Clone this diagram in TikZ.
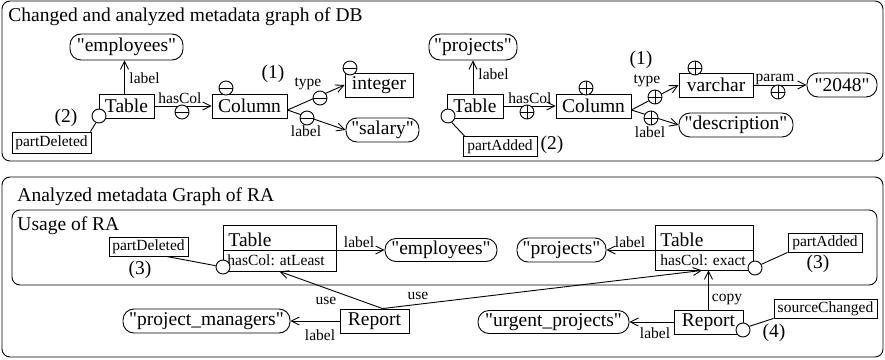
\documentclass[tikz,border=0pt]{standalone}
\usepackage{fontspec}
\setmainfont{Liberation Serif}[Ligatures=TeXOff]
\usetikzlibrary{arrows.meta,calc}
\newcommand\qq[1]{"#1"}
\begin{document}
\begin{tikzpicture}[x=1pt,y=-1pt,line width=0.9pt,
 bigf/.style={font=\fontsize{19.5}{22}\selectfont},
 smallf/.style={font=\fontsize{15.5}{18}\selectfont},
 txt/.style={inner sep=0pt},
 ebox/.style={draw,rectangle,inner sep=0pt,minimum height=24pt,bigf},
 pill/.style={draw,rectangle,rounded corners=11pt,inner sep=0pt,minimum height=24pt,bigf},
 sbox/.style={draw,rectangle,inner sep=0pt,minimum height=20pt,smallf},
 lbl/.style={inner sep=0pt,smallf},
 num/.style={inner sep=0pt,bigf},
 conn/.style={-{Straight Barb[length=8pt,width=8pt,line width=0.9pt]}},
 mk/.style={circle,draw,fill=white,minimum size=14pt,inner sep=0pt},
 minusmk/.style={mk,path picture={\draw (path picture bounding box.west) -- (path picture bounding box.east);}},
 plusmk/.style={mk,path picture={\draw (path picture bounding box.west) -- (path picture bounding box.east); \draw (path picture bounding box.north) -- (path picture bounding box.south);}},
 frame/.style={draw,rounded corners=8pt,line width=0.9pt}]

\useasboundingbox (0,0) rectangle (885,359);

% ---------- top frame ----------
\draw[frame] (2,1) rectangle (883,161);
\node[txt,bigf,anchor=base west] (t1) at (8,21) {Changed and analyzed metadata graph of DB};

% left graph
\node[ebox,minimum width=55pt] (TL) at (126.5,106) {Table};
\node[pill,minimum width=113pt,minimum height=26pt] (E1) at (126.5,47) {\qq{employees}};
\draw[conn] ($(TL.north)+(-2,0)$) -- ($(E1.south)+(-2,0)$);
\node[lbl,anchor=west] (l1) at (129,78) {label};
\node[sbox,minimum width=79pt,minimum height=21pt] (PD1) at (51.5,142.5) {partDeleted};
\node[mk] (c1) at (99,116) {};
\draw (c1.245) -- ($(PD1.north east)+(-1,0)$);
\node[num] (n2a) at (66,118) {(2)};
\node[ebox,minimum width=75pt] (C1) at (249.5,106) {Column};
\draw[conn] (TL.east) -- (C1.west);
\node[lbl,anchor=base west] (hc1) at (158,103) {hasCol};
\node[minusmk] (m1) at (182,112) {};
\node[minusmk] (m2) at (226,88) {};
\node[num] (n1a) at (273,74) {(1)};
\node[ebox,minimum width=68pt] (I1) at (379,85) {integer};
\node[minusmk] (m3) at (350,68) {};
\node[pill,minimum width=73pt] (S1) at (382.5,130) {\qq{salary}};
\coordinate (C1o) at ($(C1.east)+(0,4)$);
\draw[conn] (C1o) -- (I1.west);
\draw[conn] (C1o) -- (S1.west);
\node[lbl] (ty1) at (308,84) {type};
\node[minusmk] (m4) at (320,98) {};
\node[minusmk] (m5) at (307,118) {};
\node[lbl] (l2) at (306,131) {label};

% right graph
\node[ebox,minimum width=56pt] (TR) at (475,106) {Table};
\node[pill,minimum width=88pt,minimum height=26pt] (P1) at (473,47) {\qq{projects}};
\draw[conn] ($(TR.north)+(-2,0)$) -- (P1.south);
\node[lbl,anchor=west] (l3) at (478,74) {label};
\node[sbox,minimum width=74pt] (PA1) at (500,146.5) {partAdded};
\node[mk] (c2) at (448,116) {};
\draw (c2.300) -- ($(PA1.north west)+(2,0)$);
\node[num] (n2b) at (552,145) {(2)};
\node[ebox,minimum width=75pt] (C2) at (593.5,106) {Column};
\draw[conn] (TR.east) -- (C2.west);
\node[lbl,anchor=base west] (hc2) at (508,103) {hasCol};
\node[plusmk] (p1) at (527,112) {};
\node[plusmk] (p2) at (586,88) {};
\node[num] (n1b) at (641,60) {(1)};
\node[lbl] (ty2) at (647,81) {type};
\node[ebox,minimum width=74pt] (V) at (716,85) {varchar};
\node[plusmk] (p3) at (695,68) {};
\node[pill,minimum width=114pt] (D) at (736,125) {\qq{description}};
\node[pill,minimum width=70pt] (N) at (842,85) {\qq{2048}};
\coordinate (C2o) at ($(C2.east)+(0,4)$);
\draw[conn] (C2o) -- (V.west);
\draw[conn] (C2o) -- (D.west);
\node[plusmk] (p4) at (655,97) {};
\node[plusmk] (p5) at (651,118) {};
\node[lbl] (l4) at (650,132) {label};
\draw[conn] (V.east) -- (N.west);
\node[lbl] (pr) at (775,79) {param};
\node[plusmk] (p6) at (778,92) {};

% ---------- bottom frame ----------
\draw[frame] (2,177) rectangle (883,357);
\node[txt,bigf,anchor=base west] (t2) at (17,201) {Analyzed metadata Graph of RA};
\draw[frame] (12,210) rectangle (877,285);
\node[txt,bigf,anchor=base west] (t3) at (17,230) {Usage of RA};

\node[draw,rectangle,inner sep=0pt,minimum width=113pt,minimum height=46pt] (TA) at (279.5,248) {};
\draw ($(TA.west)+(0,2)$) -- ($(TA.east)+(0,2)$);
\node[txt,bigf,anchor=base west] (TAt) at (228,246) {Table};
\node[txt,smallf,anchor=base west] (TAh) at (227,265) {hasCol: atLeast};

\node[draw,rectangle,inner sep=0pt,minimum width=98pt,minimum height=45pt] (TE) at (704,247.5) {};
\draw ($(TE.west)+(0,2.5)$) -- ($(TE.east)+(0,2.5)$);
\node[txt,bigf,anchor=base west] (TEt) at (660,246) {Table};
\node[txt,smallf,anchor=base west] (TEh) at (660,265) {hasCol: exact};

\node[sbox,minimum width=79pt,minimum height=19pt] (PD2) at (148.5,246.5) {partDeleted};
\node[mk] (cA) at (223,267) {};
\draw ($(PD2.south)+(18,0)$) -- (cA.170);
\node[num] (n3a) at (140,270) {(3)};

\node[pill,minimum width=112pt,minimum height=23pt] (E2) at (441,250) {\qq{employees}};
\draw[conn] ($(TA.east)+(0,2)$) -- (E2.west);
\node[lbl] (l5) at (359,242) {label};
\node[pill,minimum width=89pt] (P2) at (561.5,250) {\qq{projects}};
\draw[conn] ($(TE.west)+(0,2.5)$) -- (P2.east);
\node[lbl] (l6) at (630,242) {label};
\node[sbox,minimum width=74pt,minimum height=19pt] (PA2) at (825,242.5) {partAdded};
\node[mk] (cE) at (755,268) {};
\draw (cE.30) -- (PA2.south west);
\node[num] (n3b) at (818,264) {(3)};

\node[ebox,minimum width=69pt] (RL) at (374.5,321) {Report};
\node[pill,minimum width=167pt] (PM) at (206.5,321) {\qq{project\_managers}};
\draw[conn] (RL.west) -- (PM.east);
\node[lbl] (l7) at (320,335) {label};
\coordinate (RLt) at ($(RL.north)+(8,0)$);
\draw[conn] (RLt) -- (TA.south);
\node[lbl] (u1) at (326,301) {use};
\draw[conn] (RLt) -- ($(TE.south)+(-2,0)$);
\node[lbl] (u2) at (418,296) {use};

\node[ebox,minimum width=69pt] (RR) at (708.5,322) {Report};
\node[pill,minimum width=151pt,minimum height=23pt] (UP) at (553.5,322) {\qq{urgent\_projects}};
\draw[conn] (RR.west) -- (UP.east);
\node[lbl] (l8) at (655,333) {label};
\draw[conn] (RR.north) -- (RR.north |- TE.south);
\node[lbl] (cp) at (727,300) {copy};
\node[sbox,minimum width=103pt,minimum height=19pt] (SC) at (825.5,308.5) {sourceChanged};
\node[mk] (cR) at (743,330) {};
\draw (cR.30) -- (SC.south west);
\node[num] (n4) at (774,333) {(4)};
\end{tikzpicture}
\end{document}
